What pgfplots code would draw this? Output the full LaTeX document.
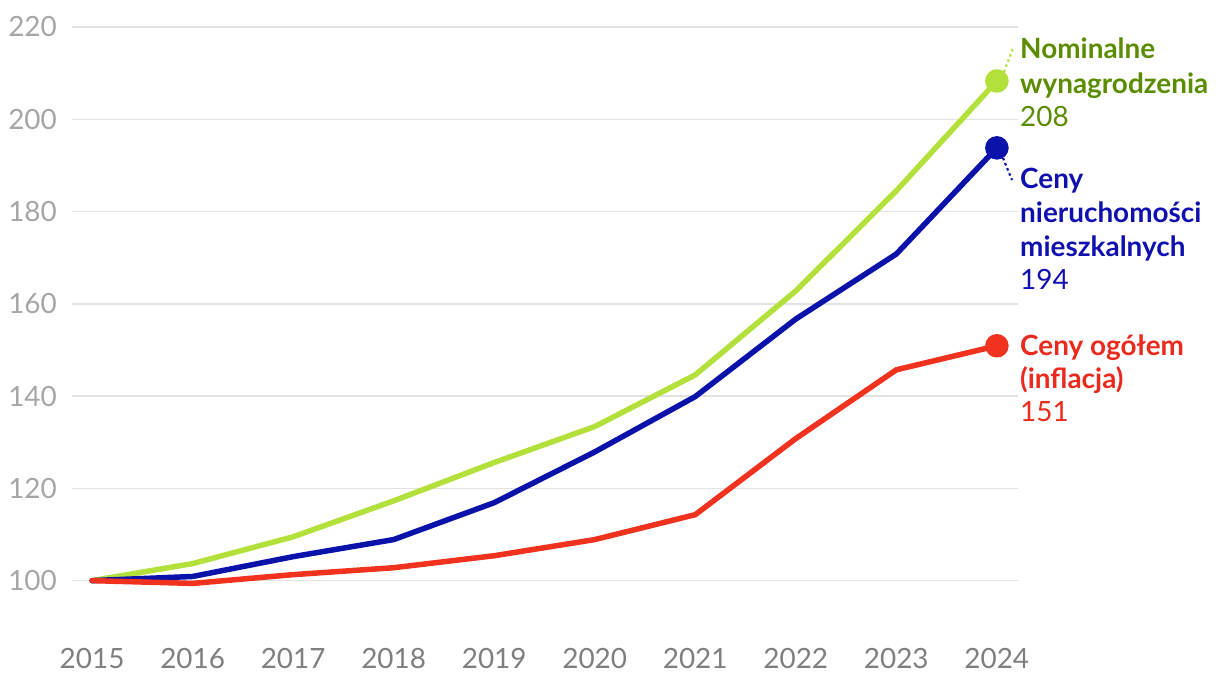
\documentclass[border=0pt]{standalone}
\usepackage{pgfplots}
\pgfplotsset{compat=1.18}
\usepackage{fontspec}
\setmainfont{Lato}
\definecolor{gline}{HTML}{B4E03C}
\definecolor{gtext}{HTML}{5B8C00}
\definecolor{bline}{HTML}{0A12AA}
\definecolor{btext}{HTML}{1010B0}
\definecolor{rline}{HTML}{F0321E}
\definecolor{rtext}{HTML}{EA2A1C}
\definecolor{ytk}{HTML}{A6A6A6}
\definecolor{xtk}{HTML}{7F7F7F}
\definecolor{grd}{HTML}{E2E2E2}
\begin{document}
\begin{tikzpicture}
\begin{axis}[
  scale only axis, width=946bp, height=609bp,
  xmin=2014.8, xmax=2024.21, ymin=88, ymax=220,
  axis line style={draw=none}, major tick length=0pt,
  ytick={100,120,...,220}, xtick={2015,...,2024},
  ymajorgrids, grid style={draw=grd, line width=1.5bp},
  /pgf/number format/assume math mode=true,
  /pgf/number format/1000 sep={},
  yticklabel style={font=\fontsize{28}{33}\selectfont, text=ytk, inner sep=0pt, anchor=east, xshift=-15bp},
  xticklabel style={font=\fontsize{28}{33}\selectfont, text=xtk, inner sep=0pt, anchor=north, yshift=-12bp},
  clip=false,
  every axis plot/.append style={line width=5.5bp, line join=round, line cap=round},
]
\coordinate (bl) at (rel axis cs:0,0);
\addplot[gline, mark=none] coordinates {(2015,100) (2016,103.7) (2017,109.5) (2018,117.3) (2019,125.6) (2020,133.4) (2021,144.6) (2022,162.8) (2023,184.5) (2024,208.3)};
\addplot[bline, mark=none] coordinates {(2015,100) (2016,100.9) (2017,105.2) (2018,108.9) (2019,116.9) (2020,127.9) (2021,139.9) (2022,156.7) (2023,170.8) (2024,193.8)};
\addplot[rline, mark=none] coordinates {(2015,100) (2016,99.4) (2017,101.3) (2018,102.8) (2019,105.4) (2020,108.9) (2021,114.3) (2022,130.8) (2023,145.7) (2024,150.9)};
\addplot[gline, only marks, mark=*, mark size=9bp, mark options={draw=none, fill=gline}] coordinates {(2024,208.3)};
\addplot[bline, only marks, mark=*, mark size=9bp, mark options={draw=none, fill=bline}] coordinates {(2024,193.8)};
\addplot[rline, only marks, mark=*, mark size=9bp, mark options={draw=none, fill=rline}] coordinates {(2024,150.9)};
\end{axis}
\draw[gline, line width=2.2bp, dash pattern=on 2.5bp off 3bp] ([shift={(932bp,564bp)}]bl) -- ([shift={(941bp,588bp)}]bl);
\draw[bline, line width=2.2bp, dash pattern=on 2.5bp off 3bp] ([shift={(931bp,478bp)}]bl) -- ([shift={(940bp,456bp)}]bl);
\begin{scope}[every node/.style={anchor=base west, inner sep=0pt, font=\fontsize{28}{33}\selectfont}]
\node[text=gtext] at ([shift={(948bp,577bp)}]bl) {\textbf{Nominalne}};
\node[text=gtext] at ([shift={(948bp,542bp)}]bl) {\textbf{wynagrodzenia}};
\node[text=gtext] at ([shift={(948bp,509bp)}]bl) {208};
\node[text=btext] at ([shift={(948bp,447bp)}]bl) {\textbf{Ceny}};
\node[text=btext] at ([shift={(948bp,413bp)}]bl) {\textbf{nieruchomości}};
\node[text=btext] at ([shift={(948bp,379bp)}]bl) {\textbf{mieszkalnych}};
\node[text=btext] at ([shift={(948bp,346bp)}]bl) {194};
\node[text=rtext] at ([shift={(948bp,280bp)}]bl) {\textbf{Ceny ogółem}};
\node[text=rtext] at ([shift={(948bp,247bp)}]bl) {\textbf{(inflacja)}};
\node[text=rtext] at ([shift={(948bp,214bp)}]bl) {151};
\end{scope}
\pgfresetboundingbox
\path ([shift={(-72bp,-48bp)}]bl) rectangle ++(1220bp,684bp);
\end{tikzpicture}
\end{document}
